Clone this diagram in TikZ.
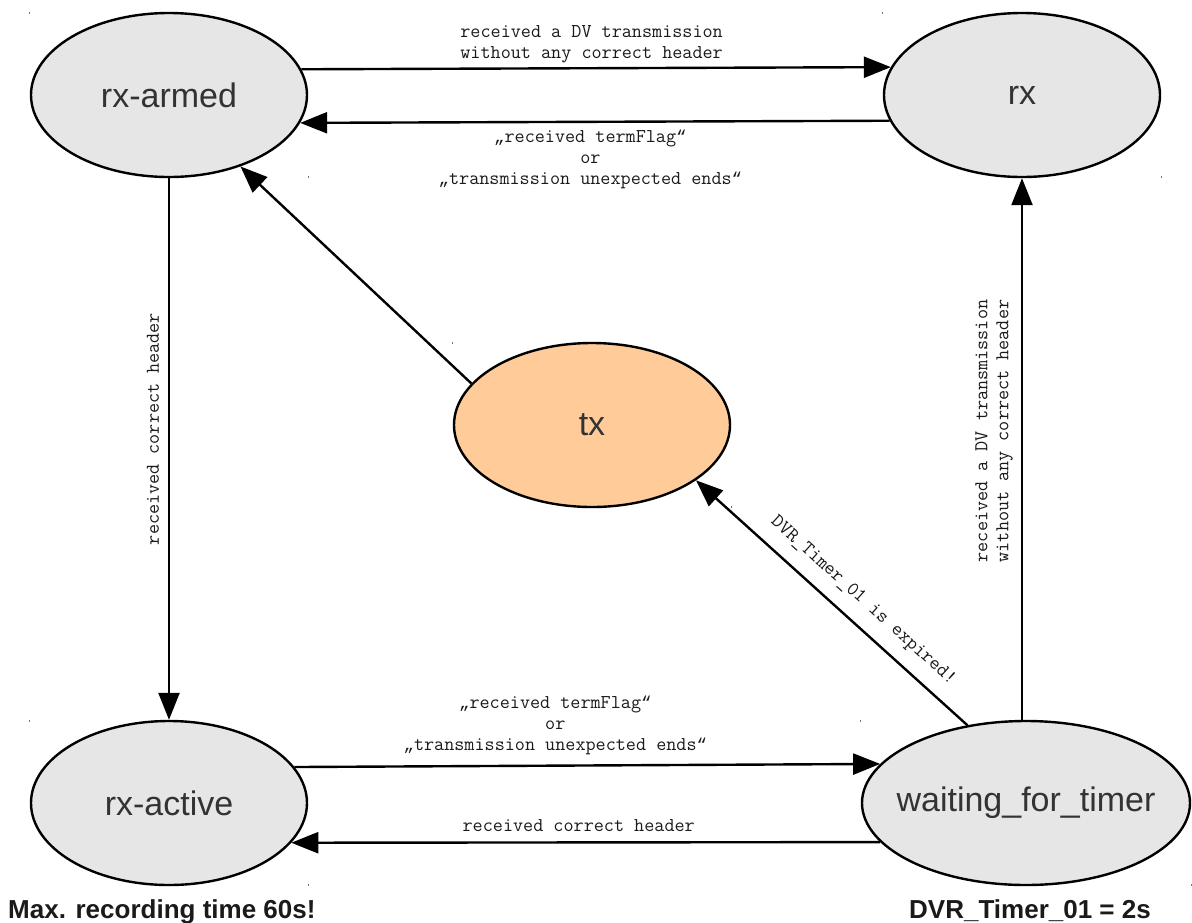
\documentclass[tikz,border=0pt]{standalone}
\usepackage{fontspec}
\setmainfont{Liberation Sans}
\newfontfamily\quotefont{Liberation Mono}
\usetikzlibrary{shapes.geometric,arrows.meta}
\definecolor{stfill}{HTML}{E6E6E6}
\definecolor{txfill}{HTML}{FFCC99}
\definecolor{sttext}{HTML}{333333}
\definecolor{lbltext}{HTML}{1A1A1A}
\newcommand{\statetxt}[1]{\makebox[0pt]{#1}}
\newcommand{\oq}{{\quotefont\fontsize{17.3}{21}\selectfont„}}
\newcommand{\cq}{{\quotefont\fontsize{17.3}{21}\selectfont“}}
\begin{document}
\begin{tikzpicture}[x=1pt,y=-1pt,
  state/.style={ellipse, draw=black, line width=2.4pt, fill=stfill,
    minimum width=276pt, minimum height=164pt, inner sep=0pt,
    text=sttext, font=\fontsize{34}{40}\selectfont},
  arr/.style={line width=2.4pt, -{Triangle[length=27pt,width=21pt]}},
  lbl/.style={font=\fontsize{19.6}{21}\selectfont\ttfamily,
    align=center, inner sep=0pt, text=lbltext},
  note/.style={font=\fontsize{26}{30}\selectfont\bfseries, text=lbltext, inner sep=0pt},
  cornermark/.style={fill=black!55}
]
\useasboundingbox (0,0) rectangle (1192,922);

\node[state] (rxa) at (169,95)  {\statetxt{rx-armed}};
\node[state] (rx)  at (1022,95) {\statetxt{rx}};
\node[state, fill=txfill] (tx) at (592,425) {\statetxt{tx}};
\node[state] (ra)  at (169,803) {\statetxt{rx-active}};
\node[state, minimum width=328pt] (wt) at (1026,803) {\statetxt{waiting\_for\_timer}};

% top pair
\draw[arr] (rxa.11.7) -- (rx.168.3)
  node[lbl, midway, xshift=-4.5pt, yshift=24.4pt] (l1) {received a DV transmission\\without any correct header};
\draw[arr] (rx.191.7) -- (rxa.348.3)
  node[lbl, midway, xshift=-4.5pt, yshift=-38pt] (l2) {\oq received termFlag\cq\\or\\\oq transmission unexpected ends\cq};

% bottom pair
\draw[arr] (ra.16.7) -- (wt.165.8)
  node[lbl, midway, xshift=-32pt, yshift=40pt] (l3) {\oq received termFlag\cq\\or\\\oq transmission unexpected ends\cq};
\draw[arr] (wt.195.1) -- (ra.342.2)
  node[lbl, midway, xshift=-7pt, yshift=16.6pt] (l4) {received correct header};

% verticals
\draw[arr] (rxa) -- (ra)
  node[lbl, midway, xshift=-16pt, yshift=20pt, rotate=90] (l5) {received correct header};
\draw[arr] (wt.north -| rx.south) -- (rx.south)
  node[lbl, midway, xshift=-28pt, yshift=18pt, rotate=90] (l6) {received a DV transmission\\without any correct header};

% diagonals
\draw[arr] (tx.161) -- (rxa.315.4);
\draw[arr] (wt.127.8) -- (tx.332.6)
  node[lbl, sloped, pos=0.44, above=13pt] (l7) {DVR\_Timer\_01 is expired!};

% notes
\node[note, anchor=base west] (n1) at (8,918) {Max. recording time 60s!};
\node[note, anchor=base] (n2) at (1030,918) {DVR\_Timer\_01 = 2s};

% tiny corner marks
\foreach \n in {rxa,rx,tx,ra,wt}{
  \fill[cornermark] (\n.west |- \n.north) ++(-0.6,0) rectangle ++(1.2,2.5);
  \fill[cornermark] (\n.east |- \n.south) ++(-0.6,-2.5) rectangle ++(1.2,2.5);
}
\end{tikzpicture}
\end{document}
